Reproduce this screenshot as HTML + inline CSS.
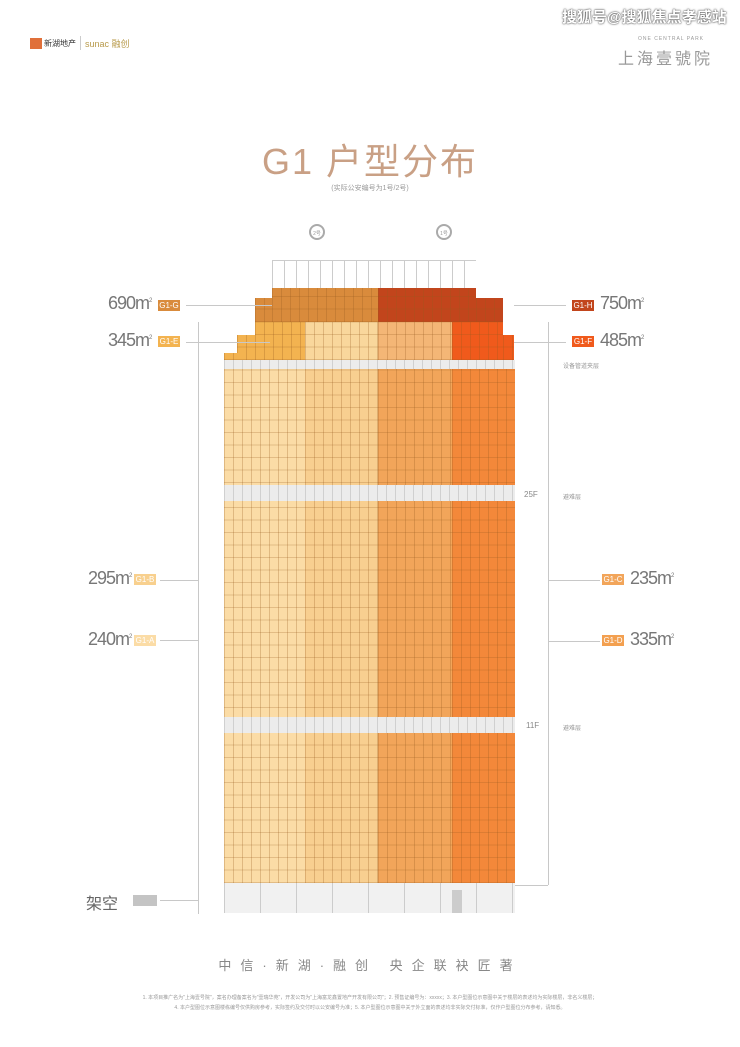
<!DOCTYPE html>
<html><head><meta charset="utf-8"><style>
body{margin:0;width:740px;height:1047px;background:#fff;position:relative;overflow:hidden;font-family:"Liberation Sans","Noto Sans CJK SC",sans-serif}
.a{position:absolute}
.grid{background-image:repeating-linear-gradient(90deg,rgba(150,90,30,.28) 0 1px,transparent 1px 9px),repeating-linear-gradient(0deg,rgba(150,90,30,.25) 0 1px,transparent 1px 12.5px)}
.ln{position:absolute;background:#c8c8c8}
.tag{position:absolute;color:#fff;font-size:8px;line-height:11px;height:11px;text-align:center;width:22px}
.num{position:absolute;font-size:18px;color:#777;letter-spacing:-1px;font-family:"Liberation Sans Narrow","Liberation Sans",sans-serif}
.num sup{font-size:6px}
.sm{position:absolute;font-size:6px;color:#999}
.band{position:absolute;background:#ececec;background-image:repeating-linear-gradient(90deg,#d0d0d0 0 1px,transparent 1px 9px)}
</style></head><body>
<div class="a" style="left:562px;top:6px;font-size:15px;font-weight:bold;color:#fff;text-shadow:0 0 2px #555,0 0 1px #333">搜狐号@搜狐焦点孝感站</div>
<div class="a" style="left:30px;top:38px;width:12px;height:11px;background:#e0703a"></div>
<div class="a" style="left:44px;top:38px;font-size:8px;color:#333">新湖地产</div>
<div class="a" style="left:80px;top:36px;width:1px;height:14px;background:#ccc"></div>
<div class="a" style="left:85px;top:37px;font-size:9px;color:#b89a4a">sunac 融创</div>
<div class="a" style="left:638px;top:36px;font-size:5px;color:#999;letter-spacing:1px">ONE CENTRAL PARK</div>
<div class="a" style="left:618px;top:45px;font-size:16px;color:#999;letter-spacing:3px">上海壹號院</div>
<div class="a" style="left:0;top:133px;width:740px;text-align:center;font-size:36px;color:#c9a085;letter-spacing:2px">G1 户型分布</div>
<div class="a" style="left:0;top:183px;width:740px;text-align:center;font-size:7px;color:#999">(实际公安编号为1号/2号)</div>
<div class="a" style="left:309px;top:224px;width:16px;height:16px;border:2px solid #aaa;border-radius:50%;font-size:5px;color:#999;text-align:center;line-height:16px;box-sizing:border-box">2号</div>
<div class="a" style="left:436px;top:224px;width:16px;height:16px;border:2px solid #aaa;border-radius:50%;font-size:5px;color:#999;text-align:center;line-height:16px;box-sizing:border-box">1号</div>
<!-- roof outline -->
<div class="a" style="left:272px;top:260px;width:204px;height:28px;border-top:1px solid #ccc;background-image:repeating-linear-gradient(90deg,#ccc 0 1px,transparent 1px 12px)"></div>
<!-- G band -->
<div class="a grid" style="left:272px;top:288px;width:106px;height:34px;background-color:#d98b3c"></div>
<div class="a grid" style="left:255px;top:298px;width:17px;height:24px;background-color:#d98b3c"></div>
<div class="a grid" style="left:378px;top:288px;width:98px;height:34px;background-color:#c2451c"></div>
<div class="a grid" style="left:476px;top:298px;width:27px;height:24px;background-color:#c2451c"></div>
<!-- E/F band -->
<div class="a grid" style="left:237px;top:335px;width:18px;height:25px;background-color:#f3b350"></div>
<div class="a grid" style="left:224px;top:353px;width:14px;height:7px;background-color:#f3b350"></div>
<div class="a grid" style="left:255px;top:322px;width:50px;height:38px;background-color:#f3b350"></div>
<div class="a grid" style="left:305px;top:322px;width:73px;height:38px;background-color:#f9d79c"></div>
<div class="a grid" style="left:378px;top:322px;width:74px;height:38px;background-color:#f4b676"></div>
<div class="a grid" style="left:452px;top:322px;width:51px;height:38px;background-color:#f05a1c"></div>
<div class="a grid" style="left:503px;top:335px;width:11px;height:25px;background-color:#f05a1c"></div>
<!-- main body -->
<div class="a grid" style="left:224px;top:360px;width:81px;height:523px;background-color:#fbdca6"></div>
<div class="a grid" style="left:305px;top:360px;width:73px;height:523px;background-color:#f8cf90"></div>
<div class="a grid" style="left:378px;top:360px;width:74px;height:523px;background-color:#f2a55a"></div>
<div class="a grid" style="left:452px;top:360px;width:63px;height:523px;background-color:#f3883a"></div>
<div class="band" style="left:224px;top:360px;width:291px;height:9px"></div>
<div class="band" style="left:224px;top:485px;width:291px;height:16px"></div>
<div class="band" style="left:224px;top:717px;width:291px;height:16px"></div>
<div class="a" style="left:224px;top:883px;width:291px;height:30px;background:#f1f1f1;background-image:repeating-linear-gradient(90deg,#ccc 0 1px,transparent 1px 36px)"></div>
<div class="a" style="left:452px;top:890px;width:10px;height:23px;background:#ccc"></div>
<!-- left lines -->
<div class="ln" style="left:198px;top:322px;width:1px;height:592px"></div>
<div class="ln" style="left:186px;top:305px;width:86px;height:1px"></div>
<div class="ln" style="left:186px;top:342px;width:84px;height:1px"></div>
<div class="ln" style="left:160px;top:580px;width:38px;height:1px"></div>
<div class="ln" style="left:160px;top:640px;width:38px;height:1px"></div>
<div class="ln" style="left:160px;top:900px;width:38px;height:1px"></div>
<div class="ln" style="left:548px;top:322px;width:1px;height:563px"></div>
<div class="ln" style="left:514px;top:305px;width:52px;height:1px"></div>
<div class="ln" style="left:514px;top:342px;width:52px;height:1px"></div>
<div class="ln" style="left:548px;top:580px;width:52px;height:1px"></div>
<div class="ln" style="left:548px;top:641px;width:52px;height:1px"></div>
<div class="ln" style="left:515px;top:885px;width:33px;height:1px"></div>
<!-- left labels -->
<div class="num" style="left:108px;top:293px">690m<sup>2</sup></div><div class="tag" style="left:158px;top:300px;background:#d98b3c">G1-G</div>
<div class="num" style="left:108px;top:330px">345m<sup>2</sup></div><div class="tag" style="left:158px;top:336px;background:#f3b350">G1-E</div>
<div class="num" style="left:88px;top:568px">295m<sup>2</sup></div><div class="tag" style="left:134px;top:574px;background:#f8d08e">G1-B</div>
<div class="num" style="left:88px;top:629px">240m<sup>2</sup></div><div class="tag" style="left:134px;top:635px;background:#fbdca6">G1-A</div>
<div class="a" style="left:86px;top:890px;font-size:16px;color:#666">架空</div>
<div class="a" style="left:133px;top:895px;width:24px;height:11px;background:#c4c4c4"></div>
<!-- right labels -->
<div class="tag" style="left:572px;top:300px;background:#c2451c">G1-H</div><div class="num" style="left:600px;top:293px">750m<sup>2</sup></div>
<div class="tag" style="left:572px;top:336px;background:#f05a1c">G1-F</div><div class="num" style="left:600px;top:330px">485m<sup>2</sup></div>
<div class="tag" style="left:602px;top:574px;background:#f2a55a">G1-C</div><div class="num" style="left:630px;top:568px">235m<sup>2</sup></div>
<div class="tag" style="left:602px;top:635px;background:#f3a050">G1-D</div><div class="num" style="left:630px;top:629px">335m<sup>2</sup></div>
<div class="sm" style="left:563px;top:361px">设备管道夹层</div>
<div class="sm" style="left:563px;top:492px">避难层</div>
<div class="a" style="left:524px;top:490px;font-size:8px;color:#888">25F</div>
<div class="sm" style="left:563px;top:723px">避难层</div>
<div class="a" style="left:526px;top:721px;font-size:8px;color:#888">11F</div>
<div class="a" style="left:0;top:955px;width:740px;text-align:center;font-size:13px;color:#888;letter-spacing:9px">中信·新湖·融创 央企联袂匠著</div>
<div class="a" style="left:0;top:993px;width:740px;text-align:center;font-size:5px;color:#999;line-height:10px">1. 本项目推广名为"上海壹号院"，案名办理备案名为"壹瑞华苑"，开发公司为"上海富龙鑫置地产开发有限公司"；2. 预售证编号为：xxxxx；3. 本户型图位示意图中关于楼层的表述均为实际楼层，非名义楼层；<br>4. 本户型图位示意图楼栋编号仅供购房参考，实际签约及交付时以公安编号为准；5. 本户型图位示意图中关于外立面的表述均非实际交付标准，仅作户型图位分布参考，请知悉。</div>
</body></html>
